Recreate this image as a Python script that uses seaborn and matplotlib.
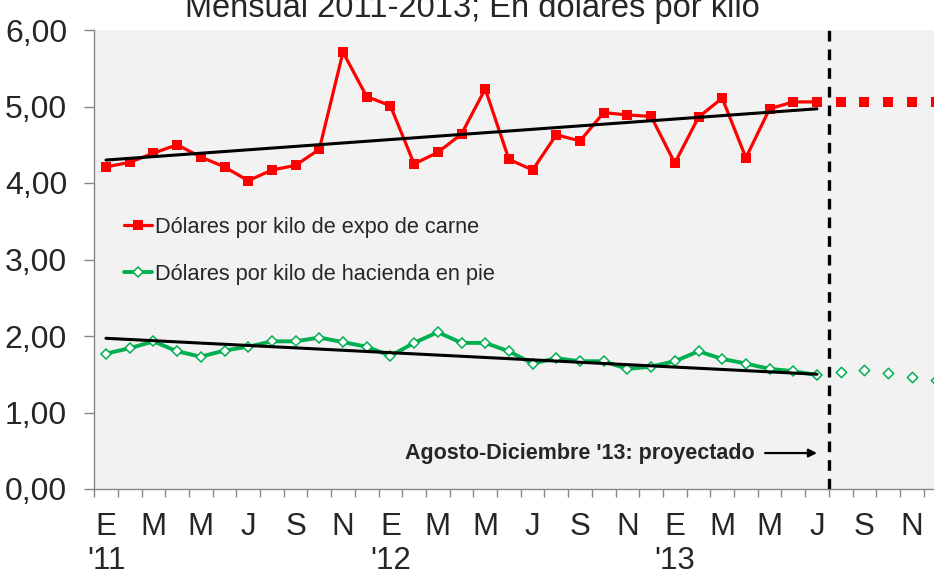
import numpy as np
import pandas as pd
import seaborn as sns
import matplotlib.pyplot as plt

# ------------------ DATA ------------------
MONTH_LETTERS = ['E', 'F', 'M', 'A', 'M', 'J', 'J', 'A', 'S', 'O', 'N', 'D']
YEARS = ["'11", "'12", "'13"]

# Jan 2011 - Jul 2013 (observed)
carne = [4.21, 4.27, 4.39, 4.50, 4.34, 4.21, 4.03, 4.17, 4.23, 4.44, 5.71, 5.13,
         5.01, 4.25, 4.40, 4.64, 5.23, 4.31, 4.17, 4.63, 4.55, 4.92, 4.89, 4.87,
         4.26, 4.86, 5.11, 4.33, 4.97, 5.06, 5.06]
hacienda = [1.77, 1.84, 1.93, 1.80, 1.73, 1.81, 1.86, 1.93, 1.93, 1.98, 1.92, 1.86,
            1.74, 1.91, 2.05, 1.91, 1.91, 1.80, 1.64, 1.71, 1.67, 1.67, 1.57, 1.60,
            1.67, 1.80, 1.70, 1.64, 1.57, 1.54, 1.49]

# Aug - Dec 2013 (projected)
carne_proj = [5.06, 5.06, 5.06, 5.06, 5.06]
hacienda_proj = [1.53, 1.55, 1.52, 1.47, 1.42]

trend_months = [0, 30]
trend_carne = [4.30, 4.97]
trend_hacienda = [1.97, 1.50]

TITLE = 'Mensual 2011-2013; En dólares por kilo'
LABEL_CARNE = 'Dólares por kilo de expo de carne'
LABEL_HACIENDA = 'Dólares por kilo de hacienda en pie'
NOTE = "Agosto-Diciembre '13: proyectado"
# -------------------------------------------

RED = '#FF0000'
GREEN = '#00B050'
GRAY = '#868686'

sns.set_style('white')
plt.rcParams['font.family'] = ['Liberation Sans', 'DejaVu Sans']

n_obs = len(carne)
n_total = n_obs + len(carne_proj)
obs = pd.DataFrame({'t': np.arange(n_obs), 'carne': carne, 'hacienda': hacienda})
proj = pd.DataFrame({'t': np.arange(n_obs, n_total), 'carne': carne_proj,
                     'hacienda': hacienda_proj})
trend = pd.DataFrame({'t': trend_months, 'carne': trend_carne,
                      'hacienda': trend_hacienda})

fig = plt.figure(figsize=(9.34, 5.70), dpi=100)
ax = fig.add_axes([94.15 / 934, 81 / 570, 853.2 / 934, 459 / 570])
ax.set_facecolor('#F2F2F2')

sns.lineplot(data=obs, x='t', y='carne', ax=ax, color=RED, lw=2.3,
             marker='s', markersize=7.4, markeredgewidth=0, zorder=3)
sns.lineplot(data=obs, x='t', y='hacienda', ax=ax, color=GREEN, lw=2.8,
             marker='D', markersize=5.3, markerfacecolor='white',
             markeredgecolor=GREEN, markeredgewidth=1.1, zorder=3)
red_line, green_line = ax.lines[0], ax.lines[1]

# projected months: markers only
sns.scatterplot(data=proj, x='t', y='carne', ax=ax, marker='s', s=55,
                color=RED, linewidth=0, zorder=3)
sns.scatterplot(data=proj, x='t', y='hacienda', ax=ax, marker='D', s=28,
                facecolor='white', edgecolor=GREEN, linewidth=1.1, zorder=3)

# linear trends over the observed period
for col in ['carne', 'hacienda']:
    sns.lineplot(data=trend, x='t', y=col, ax=ax, color='black', lw=2.2, zorder=4)

ax.axvline(n_obs - 0.5, color='black', lw=2.4, ls=(0, (3.2, 2.4)), zorder=5)

ax.annotate(NOTE, xy=(n_obs - 1.0, 0.47), xytext=(n_obs - 3.62, 0.47),
            ha='right', va='center', fontsize=15.5, fontweight='bold',
            arrowprops=dict(arrowstyle='-|>', color='black', lw=1.6,
                            shrinkA=5, shrinkB=0, mutation_scale=12))

ax.legend(handles=[red_line, green_line], labels=[LABEL_CARNE, LABEL_HACIENDA],
          loc='center left', bbox_to_anchor=(0.035, 0.519), frameon=False,
          fontsize=15.7, borderpad=0, borderaxespad=0, handlelength=1.3,
          handletextpad=0.13, labelspacing=1.2)

# axes, ticks
ax.set_xlim(-0.5, n_total - 0.5)
ax.set_ylim(0, 6)
ax.set_yticks(range(0, 7))
ax.set_yticklabels([f'{v:.2f}'.replace('.', ',') for v in range(0, 7)])
ax.set_xticks(np.arange(-0.5, n_total, 1.0))
ax.set_xticklabels([])
centers = np.arange(0, n_total, 2)
xlabels = []
for c in centers:
    lab = MONTH_LETTERS[c % 12]
    if c % 12 == 0:
        lab += '\n' + YEARS[c // 12]
    xlabels.append(lab)
ax.set_xticks(centers, minor=True)
ax.set_xticklabels(xlabels, minor=True, linespacing=1.16, va='top')
ax.tick_params(axis='x', which='major', length=6, width=1, color=GRAY,
               direction='out', bottom=True)
ax.tick_params(axis='x', which='minor', length=0, pad=16.5, labelsize=22.5)
ax.tick_params(axis='y', length=7.5, width=1, color=GRAY, direction='out',
               left=True, pad=12, labelsize=23)
ax.set_xlabel('')
ax.set_ylabel('')
for s in ['top', 'right']:
    ax.spines[s].set_visible(False)
for s in ['left', 'bottom']:
    ax.spines[s].set_color(GRAY)
    ax.spines[s].set_linewidth(1)

fig.text(472 / 934, 1 - 17 / 570, TITLE, ha='center', va='baseline', fontsize=23.5)

fig.savefig('out.png', dpi=100)
